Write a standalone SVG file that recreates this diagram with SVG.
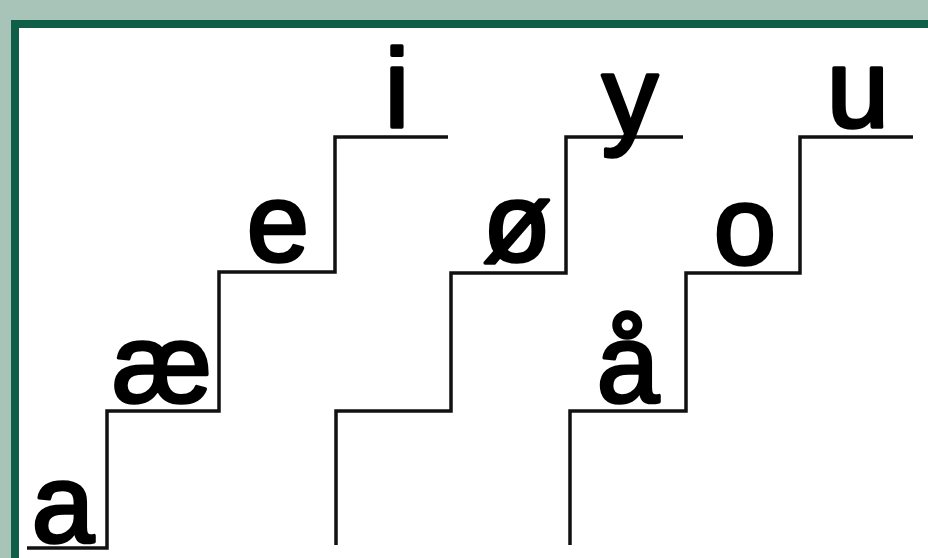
<svg xmlns="http://www.w3.org/2000/svg" width="928" height="558" viewBox="0 0 928 558">
  <style>
    .stair { fill: none; stroke: #111; stroke-width: 3.5; stroke-linejoin: miter; }
    .v { font-family: "Liberation Sans", Arial, sans-serif; font-size: 112px; fill: #000; text-anchor: middle; stroke: #000; stroke-width: 3.5; stroke-linejoin: round; }
  </style>
  <rect x="0" y="0" width="928" height="558" fill="#a8c4b8"/>
  <rect x="15" y="24" width="930" height="560" fill="#fff" stroke="#0e5e48" stroke-width="8"/>
  <g id="stairs">
    <path class="stair" d="M27,548 H107 V411 H219 V272 H335 V137 H448"/>
    <path class="stair" d="M336,545 V411 H451 V273 H566 V137 H683"/>
    <path class="stair" d="M570,545 V411 H686 V273 H800 V137 H913"/>
  </g>
  <g id="v-a"><text class="v" x="63" y="542">a</text></g>
  <g id="v-ae"><text class="v" x="162" y="402">æ</text></g>
  <g id="v-e"><text class="v" x="278" y="261">e</text></g>
  <g id="v-i"><text class="v" x="397" y="127">i</text></g>
  <g id="v-oe"><text class="v" x="517" y="261">ø</text></g>
  <g id="v-y"><text class="v" x="630" y="134">y</text></g>
  <g id="v-aa"><text class="v" x="628" y="402">å</text></g>
  <g id="v-o"><text class="v" x="745" y="264">o</text></g>
  <g id="v-u"><text class="v" x="858" y="127">u</text></g>
</svg>
